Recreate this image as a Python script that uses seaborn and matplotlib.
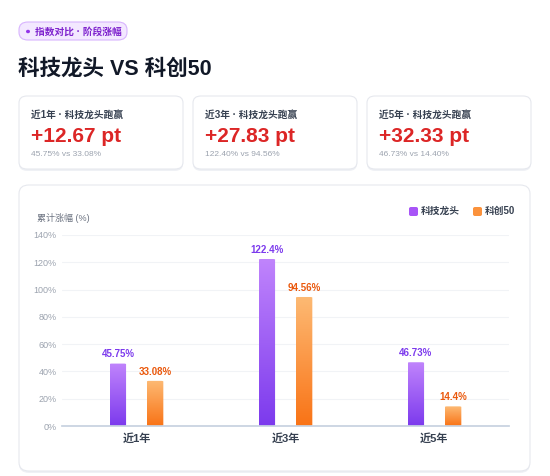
import matplotlib
matplotlib.use("Agg")
import matplotlib.pyplot as plt
import seaborn as sns
import pandas as pd
import numpy as np
from matplotlib.patches import FancyBboxPatch, Circle
from matplotlib.colors import LinearSegmentedColormap

periods = ["近1年", "近3年", "近5年"]
series = ["科技龙头", "科创50"]
tech = [45.75, 122.4, 46.73]
star50 = [33.08, 94.56, 14.4]
tech_labels = ["45.75%", "122.4%", "46.73%"]
star_labels = ["33.08%", "94.56%", "14.4%"]
card_titles = ["近1年 · 科技龙头跑赢", "近3年 · 科技龙头跑赢", "近5年 · 科技龙头跑赢"]
card_values = ["+12.67 pt", "+27.83 pt", "+32.33 pt"]
card_subs = ["45.75% vs 33.08%", "122.40% vs 94.56%", "46.73% vs 14.40%"]
yticks = [0, 20, 40, 60, 80, 100, 120, 140]

sns.set_theme(style="white")
plt.rcParams['font.family'] = ['Liberation Sans', 'Noto Sans CJK SC', 'DejaVu Sans']

W, H = 550, 476
fig = plt.figure(figsize=(5.5, 4.76), dpi=100)
fig.patch.set_facecolor("white")

def fx(x): return x / W
def fy(y): return 1 - y / H

def card(x0, y0, x1, y1, r=8):
    sh = FancyBboxPatch((fx(x0), fy(y1) - 0.004), fx(x1 - x0), (y1 - y0) / H,
                        boxstyle=f"round,pad=0,rounding_size={r/W}", transform=fig.transFigure,
                        facecolor="#eef0f4", edgecolor="none", zorder=0)
    fig.patches.append(sh)
    p = FancyBboxPatch((fx(x0), fy(y1)), fx(x1 - x0), (y1 - y0) / H,
                       boxstyle=f"round,pad=0,rounding_size={r/W}", transform=fig.transFigure,
                       facecolor="white", edgecolor="#e6e8ee", linewidth=0.8, zorder=0.5)
    fig.patches.append(p)

# badge
b = FancyBboxPatch((fx(19), fy(40)), fx(108), 18 / H, boxstyle=f"round,pad=0,rounding_size={9/W}",
                   transform=fig.transFigure, facecolor="#f3e8ff", edgecolor="#d8b4fe", linewidth=0.8)
fig.patches.append(b)
fig.patches.append(Circle((fx(28), fy(31.5)), 2 / W, transform=fig.transFigure,
                          facecolor="#9333ea", edgecolor="none"))
fig.text(fx(35), fy(31.5), "指数对比 · 阶段涨幅", color="#7e22ce", fontsize=7, va="center", fontweight="bold")
fig.text(fx(18), fy(69), "科技龙头 VS 科创50", color="#111827", fontsize=15.5, fontweight="bold", va="center")

for i, x0 in enumerate([19, 193, 367]):
    card(x0, 96, x0 + 164, 169)
    fig.text(fx(x0 + 12), fy(115), card_titles[i], fontsize=7, color="#374151", fontweight="bold", va="center")
    fig.text(fx(x0 + 12), fy(136), card_values[i], fontsize=15, color="#dc2626", fontweight="bold", va="center")
    fig.text(fx(x0 + 12), fy(154), card_subs[i], fontsize=6, color="#9ca3af", va="center")

card(19, 185, 530, 471, r=10)

ax = fig.add_axes([fx(62), fy(426), fx(509 - 62), (426 - 235) / H])
ax.set_facecolor("none")
ax.set_zorder(2)
df = pd.DataFrame({"period": periods * 2, "series": [series[0]] * 3 + [series[1]] * 3,
                   "value": tech + star50})
sns.barplot(data=df, x="period", y="value", hue="series", palette=["#9333ea", "#f97316"],
            width=0.5, gap=0.56, ax=ax, legend=False)
ax.set_ylim(0, 140)
ax.set_xlim(-0.5, 2.5)
ax.set_yticks(yticks)
ax.set_yticklabels([f"{v}%" for v in yticks], fontsize=6.5, color="#9ca3af")
ax.tick_params(axis="y", length=0, pad=4)
ax.tick_params(axis="x", length=0, pad=5)
for lab in ax.get_xticklabels():
    lab.set_fontsize(8); lab.set_fontweight("bold"); lab.set_color("#374151")
ax.grid(axis="y", color="#f1f3f6", linewidth=0.8)
ax.set_axisbelow(True)
for s in ["top", "right", "left"]:
    ax.spines[s].set_visible(False)
ax.spines["bottom"].set_color("#c7d2e0")
ax.set_xlabel(""); ax.set_ylabel("")

cm_p = LinearSegmentedColormap.from_list("p", ["#7c3aed", "#c084fc"])
cm_o = LinearSegmentedColormap.from_list("o", ["#f97316", "#fdba74"])
grad = np.linspace(0, 1, 256).reshape(-1, 1)
bars = ax.patches[:6]
for j, bar in enumerate(bars):
    x, w, h = bar.get_x(), bar.get_width(), bar.get_height()
    isp = j < 3
    bar.set_facecolor("none"); bar.set_edgecolor("none")
    rp = FancyBboxPatch((x, 0), w, h, boxstyle="round,pad=0,rounding_size=0.015",
                        mutation_aspect=30, transform=ax.transData,
                        facecolor="none", edgecolor="none")
    ax.add_patch(rp)
    im = ax.imshow(grad, cmap=cm_p if isp else cm_o, extent=[x, x + w, 0, h], origin="lower",
                   aspect="auto", zorder=2)
    im.set_clip_path(rp)
    lab = (tech_labels if isp else star_labels)[j % 3]
    ax.text(x + w / 2, h + 3, lab, ha="center", va="bottom", fontsize=7, fontweight="bold",
            color="#7c3aed" if isp else "#ea580c")
ax.set_xlim(-0.5, 2.5); ax.set_ylim(0, 140)

fig.text(fx(37), fy(218), "累计涨幅 (%)", fontsize=6.5, color="#6b7280", va="center")
for x0, col, name in [(409, "#a855f7", series[0]), (473, "#fb923c", series[1])]:
    fig.patches.append(FancyBboxPatch((fx(x0), fy(216)), 9 / W, 9 / H,
                                      boxstyle=f"round,pad=0,rounding_size={2/W}",
                                      transform=fig.transFigure, facecolor=col, edgecolor="none"))
    fig.text(fx(x0 + 12), fy(211), name, fontsize=7, fontweight="bold", color="#374151", va="center")

fig.savefig("out.png", dpi=100)
